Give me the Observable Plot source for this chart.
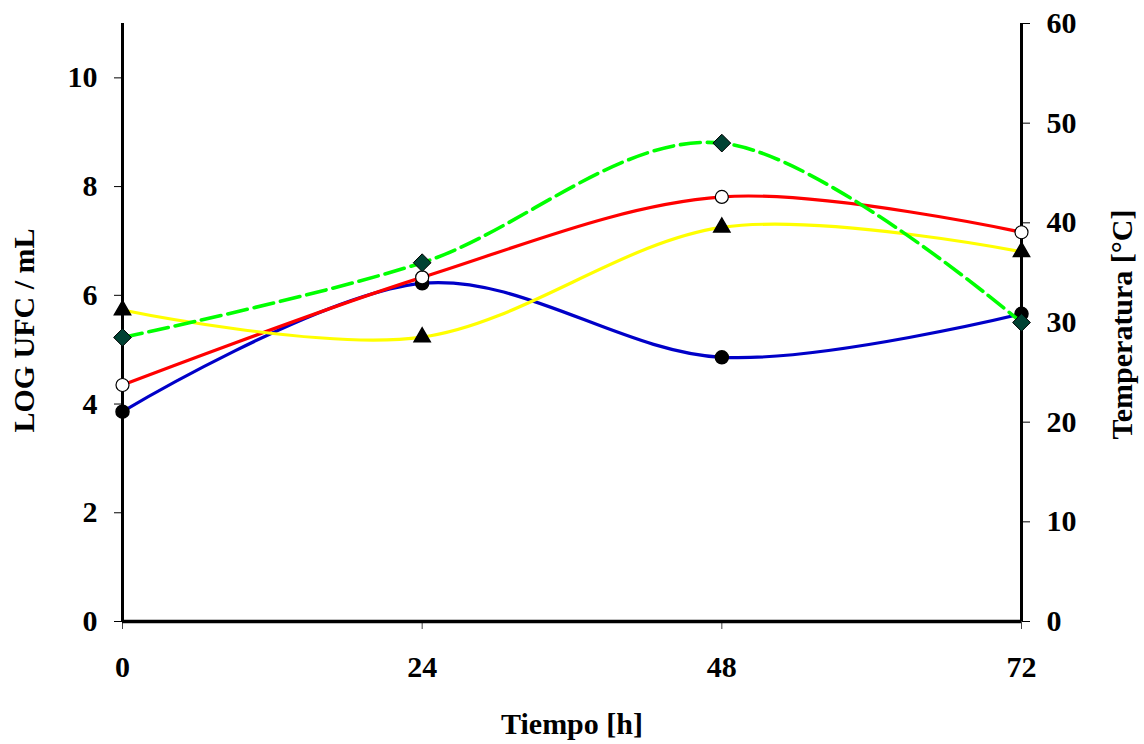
<!DOCTYPE html>
<html>
<head>
<meta charset="utf-8">
<script src="https://cdn.jsdelivr.net/npm/d3@7"></script>
<script src="https://cdn.jsdelivr.net/npm/@observablehq/plot@0.6"></script>
<style>
  html, body { margin: 0; padding: 0; background: #fff; }
  #chart { width: 1144px; height: 744px; }
  svg text { font-family: "Liberation Serif", "Times New Roman", serif; font-weight: bold; }
</style>
</head>
<body>
<div id="chart"></div>
<script>
// ---- data ----
const hours = [0, 24, 48, 72];
const xTicks = [0, 24, 48, 72];
const leftTicks = [0, 2, 4, 6, 8, 10];
const rightTicks = [0, 10, 20, 30, 40, 50, 60];

// LOG UFC / mL (left axis)
const serieAzul = [3.86, 6.22, 4.86, 5.66];      // blue, filled circles
const serieRoja = [4.35, 6.33, 7.81, 7.16];      // red, open circles
const serieAmarilla = [5.73, 5.23, 7.25, 6.80];  // yellow, triangles
// Temperatura [°C] (right axis)
const temperatura = [28.5, 36.0, 48.0, 30.0];    // green dashed, diamonds

const LEFT_MAX = 11, RIGHT_MAX = 60;
const toLeft = t => t * LEFT_MAX / RIGHT_MAX;

const rows = (vals, conv = v => v) => hours.map((h, i) => ({h, v: conv(vals[i])}));
const azul = rows(serieAzul);
const roja = rows(serieRoja);
const amarilla = rows(serieAmarilla);
const verde = rows(temperatura, toLeft);

const FS = 30;
const chart = Plot.plot({
  width: 1144,
  height: 744,
  marginLeft: 122,
  marginRight: 123,
  marginTop: 23,
  marginBottom: 123,
  style: {fontFamily: "Liberation Serif, serif", fontSize: FS + "px", fontWeight: "bold", background: "#fff"},
  x: {domain: [0, 72]},
  y: {domain: [0, LEFT_MAX]},
  marks: [
    Plot.axisX({ticks: xTicks, tickSize: 8, tickPadding: 26, stroke: "#444", fontSize: FS, label: null}),
    Plot.axisY({anchor: "left", ticks: leftTicks, tickSize: 8, tickPadding: 17, fontSize: FS, label: null}),
    Plot.axisY({anchor: "right", ticks: rightTicks.map(toLeft), tickFormat: d => Math.round(d * RIGHT_MAX / LEFT_MAX), tickSize: 8, tickPadding: 17, fontSize: FS, label: null}),
    Plot.ruleX([0], {stroke: "#000", strokeWidth: 3}),
    Plot.ruleX([72], {stroke: "#000", strokeWidth: 3}),
    Plot.ruleY([0], {stroke: "#000", strokeWidth: 3.5}),

    Plot.line(azul, {x: "h", y: "v", curve: "cardinal", stroke: "#0000c8", strokeWidth: 3.2}),
    Plot.dot(azul, {x: "h", y: "v", r: 6.5, fill: "#000", stroke: "#000"}),

    Plot.line(roja, {x: "h", y: "v", curve: "cardinal", stroke: "#ff0000", strokeWidth: 3.2}),
    Plot.dot(roja, {x: "h", y: "v", r: 6.5, fill: "#fff", stroke: "#000", strokeWidth: 1.2}),

    Plot.line(amarilla, {x: "h", y: "v", curve: "cardinal", stroke: "#ffff00", strokeWidth: 3.2}),
    Plot.dot(amarilla, {x: "h", y: "v", symbol: "triangle", r: 6, fill: "#000", stroke: "#000"}),

    Plot.line(verde, {x: "h", y: "v", curve: "cardinal", stroke: "#00ff00", strokeWidth: 3.6, strokeDasharray: "20,7"}),
    Plot.dot(verde, {x: "h", y: "v", symbol: "diamond2", r: 8, fill: "#004233", stroke: "#000", strokeWidth: 1}),

    Plot.text(["Tiempo [h]"], {frameAnchor: "bottom", lineAnchor: "middle", dy: 103, fontSize: FS, fontWeight: "bold"}),
    Plot.text(["LOG UFC / mL"], {frameAnchor: "left", textAnchor: "middle", dx: -98, dy: 8, rotate: -90, fontSize: FS, fontWeight: "bold"}),
    Plot.text(["Temperatura [°C]"], {frameAnchor: "right", textAnchor: "middle", dx: 101, dy: 2, rotate: -90, fontSize: FS, fontWeight: "bold"})
  ]
});
document.getElementById("chart").appendChild(chart);
</script>
</body>
</html>
